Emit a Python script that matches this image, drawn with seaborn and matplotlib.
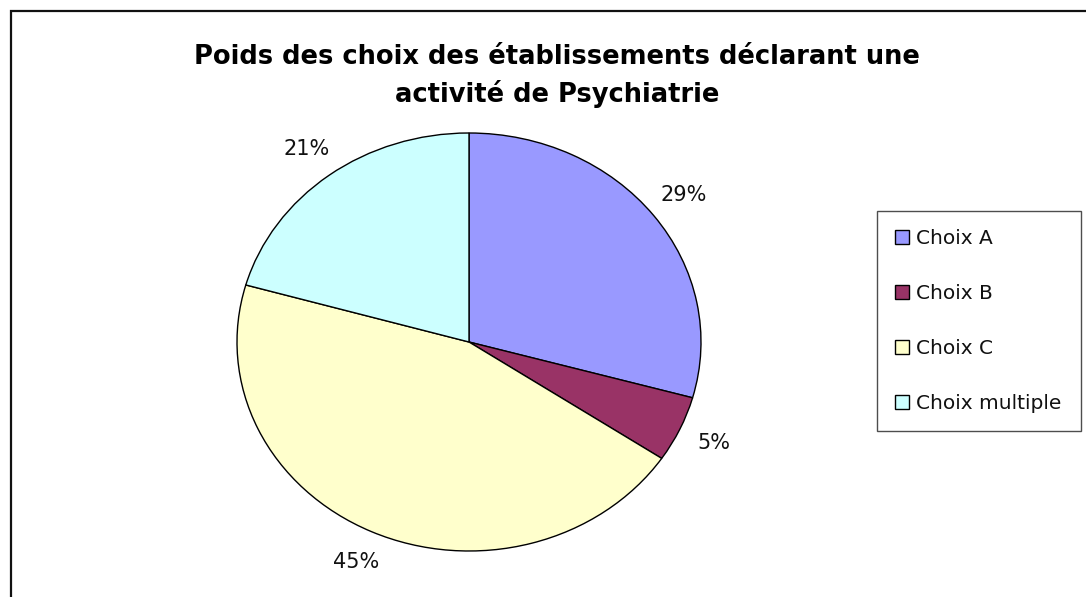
import matplotlib
matplotlib.use("Agg")
import matplotlib.pyplot as plt
import seaborn as sns
from matplotlib.patches import Rectangle

categories = ["Choix A", "Choix B", "Choix C", "Choix multiple"]
values = [29.3, 5.1, 45.0, 20.6]
colors = ["#9999FF", "#993366", "#FFFFCC", "#CCFFFF"]
title = "Poids des choix des établissements déclarant une\nactivité de Psychiatrie"

sns.set_theme(style="white")
plt.rcParams["font.family"] = ["DejaVu Sans"]

W, H = 1086, 597
fig = plt.figure(figsize=(W / 100, H / 100), dpi=100)
fig.patch.set_facecolor("white")

# outer frame (extends beyond right/bottom edges)
fig.patches.append(Rectangle((11 / W, -0.1), 1.2, 1 - 11 / H + 0.1,
                             transform=fig.transFigure, fill=False,
                             edgecolor="#111111", linewidth=1.6))

ax = fig.add_axes([237 / W, (H - 551) / H, 464 / W, 418 / H])
wedges, texts, autotexts = ax.pie(
    values, colors=colors, startangle=90, counterclock=False,
    autopct=lambda p: f"{p:.0f}%", pctdistance=1.16,
    wedgeprops=dict(edgecolor="black", linewidth=1.0),
    textprops=dict(fontsize=15, color="#111111"),
)
for w in wedges:
    w.set_clip_on(False)
ax.set_aspect("auto")
ax.set_xlim(-1, 1)
ax.set_ylim(-1, 1)
ax.axis("off")

fig.text(557 / W, 1 - 76 / H, title, ha="center", va="center",
         fontsize=18.5, fontweight="bold", linespacing=1.45, color="black")

leg = fig.legend(wedges, categories, loc="upper left",
                 bbox_to_anchor=(877 / W, (H - 431) / H, 204 / W, 220 / H),
                 mode="expand", borderaxespad=0, fontsize=14.5,
                 labelspacing=1.79, handlelength=0.72, handleheight=0.72,
                 handletextpad=0.35, borderpad=0.88, fancybox=False,
                 frameon=True, edgecolor="#222222")
leg.get_frame().set_linewidth(1.0)
for t in leg.get_texts():
    t.set_color("#111111")

fig.savefig("out.png", dpi=100)
